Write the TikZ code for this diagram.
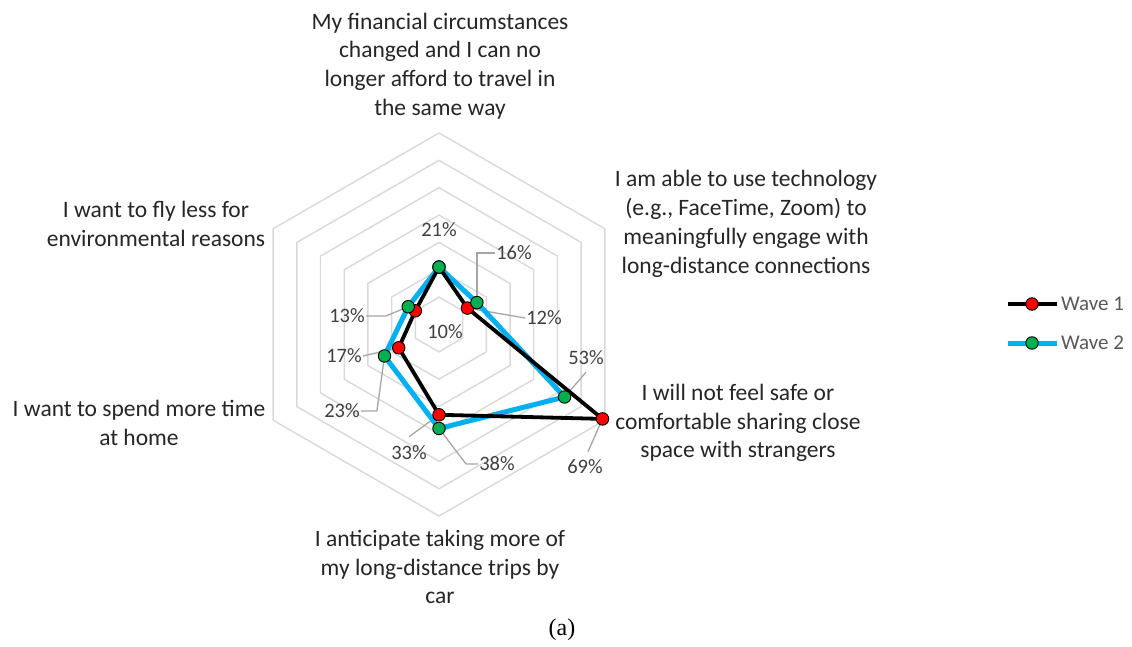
\documentclass[tikz,border=0pt]{standalone}
\usepackage{fontspec}
\setmainfont{Carlito}
\newfontfamily\capfont{Liberation Serif}
\definecolor{gridc}{HTML}{D9D9D9}
\definecolor{leadc}{HTML}{A6A6A6}
\definecolor{txtc}{HTML}{262626}
\definecolor{pctc}{HTML}{404040}
\definecolor{legc}{HTML}{595959}
\definecolor{wblue}{HTML}{00B0F0}
\definecolor{mred}{HTML}{FF0000}
\definecolor{mgreen}{HTML}{00B050}
\begin{document}
\begin{tikzpicture}[x=1pt,y=-1pt,
  gridline/.style={draw=gridc, line width=1.4pt, line join=miter},
  cat/.style={align=center, font=\fontsize{23.5}{28.8}\selectfont, text=txtc, inner sep=0pt},
  pct/.style={font=\fontsize{20.5}{22}\selectfont, text=pctc, inner sep=1pt},
  lead/.style={draw=leadc, line width=1.3pt},
  wone/.style={draw=black, line width=3.8pt, line join=round},
  wtwo/.style={draw=wblue, line width=5pt, line join=round},
  mone/.style={circle, fill=mred, draw=black, line width=0.9pt, minimum size=12.5pt, inner sep=0pt},
  mtwo/.style={circle, fill=mgreen, draw=black, line width=0.9pt, minimum size=12.5pt, inner sep=0pt},
  leg/.style={font=\fontsize{21}{24}\selectfont, text=legc, inner sep=0pt, anchor=west}]
\useasboundingbox (0,0) rectangle (1132,647);
\fill[white] (0,0) rectangle (1132,647);
\def\kk{2.736}
\begin{scope}[shift={(439,324.5)}]
  \foreach \i in {1,...,7}
    \draw[gridline] (-90:{\i*10*\kk}) -- (-30:{\i*10*\kk}) -- (30:{\i*10*\kk}) -- (90:{\i*10*\kk}) -- (150:{\i*10*\kk}) -- (210:{\i*10*\kk}) -- cycle;
  % wave 1
  \coordinate (a1) at (-90:{21*\kk});
  \coordinate (a2) at (-30:{12*\kk});
  \coordinate (a3) at (30:{69*\kk});
  \coordinate (a4) at (90:{33*\kk});
  \coordinate (a5) at (150:{17*\kk});
  \coordinate (a6) at (210:{10*\kk});
  % wave 2
  \coordinate (b1) at (-90:{21*\kk});
  \coordinate (b2) at (-30:{16*\kk});
  \coordinate (b3) at (30:{53*\kk});
  \coordinate (b4) at (90:{38*\kk});
  \coordinate (b5) at (150:{23*\kk});
  \coordinate (b6) at (210:{13*\kk});
\end{scope}

% category labels
\node[cat] (c1) at (440,66) {My financial circumstances\\changed and I can no\\longer afford to travel in\\the same way};
\node[cat] (c2) at (746,224) {I am able to use technology\\(e.g., FaceTime, Zoom) to\\meaningfully engage with\\long-distance connections};
\node[cat] (c3) at (738,423) {I will not feel safe or\\comfortable sharing close\\space with strangers};
\node[cat] (c4) at (440,567) {I anticipate taking more of\\my long-distance trips by\\car};
\node[cat] (c5) at (139,423) {I want to spend more time\\at home};
\node[cat] (c6) at (156,224) {I want to fly less for\\environmental reasons};

% percentage labels
\node[pct] (p21) at (439,230) {21\%};
\node[pct] (p16) at (514,253) {16\%};
\node[pct] (p12) at (544,318) {12\%};
\node[pct] (p10) at (445,332) {10\%};
\node[pct] (p13) at (347,316) {13\%};
\node[pct] (p17) at (344,356) {17\%};
\node[pct] (p23) at (342,411) {23\%};
\node[pct] (p33) at (409,453) {33\%};
\node[pct] (p38) at (497,464) {38\%};
\node[pct] (p53) at (586,358) {53\%};
\node[pct] (p69) at (585,467) {69\%};

% leader lines
\draw[lead] (p16.west) -| (b2);
\draw[lead] (p12.west) -- (a2);
\draw[lead] (p13.east) -- ++(20,0) -- (b6);
\draw[lead] (p17.east) -- (a5);
\draw[lead] (p23.east) -- ++(16,0) -- (b5);
\draw[lead] ([yshift=8pt]p33.north) -- (a4);
\draw[lead] (p38.west) -- ++(-12,0) -- (b4);
\draw[lead] ([yshift=-6pt]p53.south) -- (b3);
\draw[lead] ([xshift=3pt,yshift=7pt]p69.north) -- (a3);

% series lines
\draw[wtwo] (b1) -- (b2) -- (b3) -- (b4) -- (b5) -- (b6) -- cycle;
\draw[wone] (a1) -- (a2) -- (a3) -- (a4) -- (a5) -- (a6) -- cycle;
% markers
\foreach \p in {a1,a2,a3,a4,a5,a6} \node[mone] (m\p) at (\p) {};
\foreach \p in {b1,b2,b3,b4,b5,b6} \node[mtwo] (m\p) at (\p) {};

% legend
\coordinate (l1s) at (1008,304);
\coordinate (l1e) at (1057,304);
\coordinate (l2s) at (1008,343);
\coordinate (l2e) at (1057,343);
\draw[wone] (l1s) -- (l1e);
\node[mone] (lm1) at (1032,304) {};
\node[leg] (lt1) at (1061,304) {Wave 1};
\draw[wtwo] (l2s) -- (l2e);
\node[mtwo] (lm2) at (1032,343) {};
\node[leg] (lt2) at (1061,343) {Wave 2};

% caption
\node[font=\capfont\fontsize{24}{28}\selectfont, inner sep=0pt] (cap) at (562,630) {(a)};
\end{tikzpicture}
\end{document}
